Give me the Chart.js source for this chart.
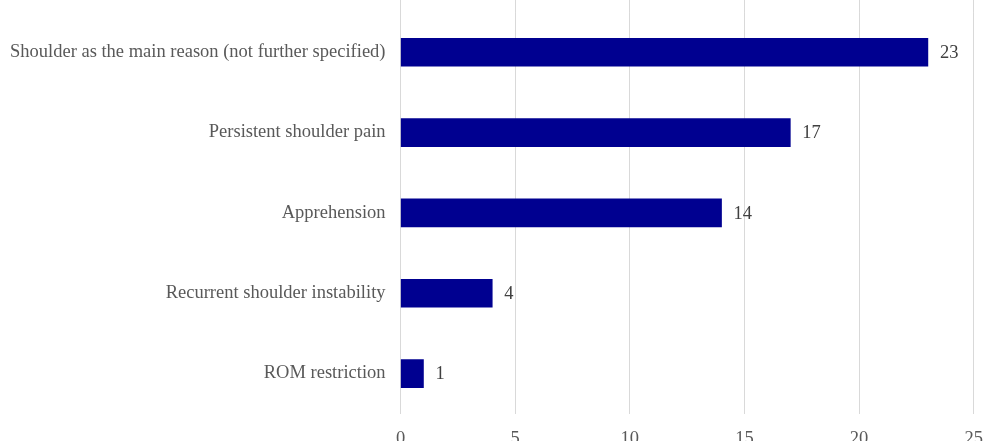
<!DOCTYPE html>
<html>
<head>
<meta charset="utf-8">
<script src="https://cdn.jsdelivr.net/npm/chart.js@4"></script>
<style>
  html, body { margin: 0; padding: 0; background: #fff; overflow: hidden; }
  #wrap { width: 997px; height: 482px; position: relative; top: -14px; }
</style>
</head>
<body>
<div id="wrap"><canvas id="reasonChart"></canvas></div>
<script>
// Reasons for revision, counts per category
const reasons = [
    'Shoulder as the main reason (not further specified)',
    'Persistent shoulder pain',
    'Apprehension',
    'Recurrent shoulder instability',
    'ROM restriction'
];
const counts = [23, 17, 14, 4, 1];
const axisMax = 25;
const axisStep = 5;

const labelFont = { family: '"Liberation Serif", "Times New Roman", serif', size: 18.5 };

// grid lines run all the way up to the top edge
const gridToTop = {
    id: 'gridToTop',
    beforeDatasetsDraw(chart) {
        const { ctx, chartArea, scales } = chart;
        ctx.save();
        ctx.strokeStyle = '#d9d9d9';
        ctx.lineWidth = 1;
        for (let v = 0; v <= axisMax; v += axisStep) {
            const x = Math.round(scales.x.getPixelForValue(v) - 0.5) + 0.5;
            ctx.beginPath();
            ctx.moveTo(x, 0);
            ctx.lineTo(x, chartArea.top);
            ctx.stroke();
        }
        ctx.restore();
    }
};

// value printed right of each bar
const valueLabels = {
    id: 'valueLabels',
    afterDatasetsDraw(chart) {
        const { ctx } = chart;
        const meta = chart.getDatasetMeta(0);
        ctx.save();
        ctx.font = `${labelFont.size}px ${labelFont.family}`;
        ctx.fillStyle = '#404040';
        ctx.textAlign = 'left';
        ctx.textBaseline = 'middle';
        meta.data.forEach((bar, i) => {
            ctx.fillText(String(counts[i]), bar.x + 12, bar.y + 1);
        });
        ctx.restore();
    }
};

const ctx = document.getElementById('reasonChart').getContext('2d');
new Chart(ctx, {
    type: 'bar',
    data: {
        labels: reasons,
        datasets: [{
            data: counts,
            backgroundColor: '#000090',
            borderWidth: 0,
            barThickness: 28
        }]
    },
    options: {
        indexAxis: 'y',
        responsive: true,
        maintainAspectRatio: false,
        animation: false,
        layout: { padding: { top: 0, right: 0, bottom: 4, left: -5 } },
        plugins: {
            legend: { display: false },
            tooltip: { enabled: false }
        },
        scales: {
            x: {
                min: 0,
                max: axisMax,
                ticks: { stepSize: axisStep, color: '#595959', font: labelFont, padding: 14 },
                grid: { color: '#d9d9d9', drawTicks: false },
                border: { display: false }
            },
            y: {
                ticks: { color: '#595959', font: labelFont, padding: 15 },
                grid: { display: false, drawTicks: false },
                border: { display: true, color: '#d9d9d9' }
            }
        }
    },
    plugins: [gridToTop, valueLabels]
});
</script>
</body>
</html>
